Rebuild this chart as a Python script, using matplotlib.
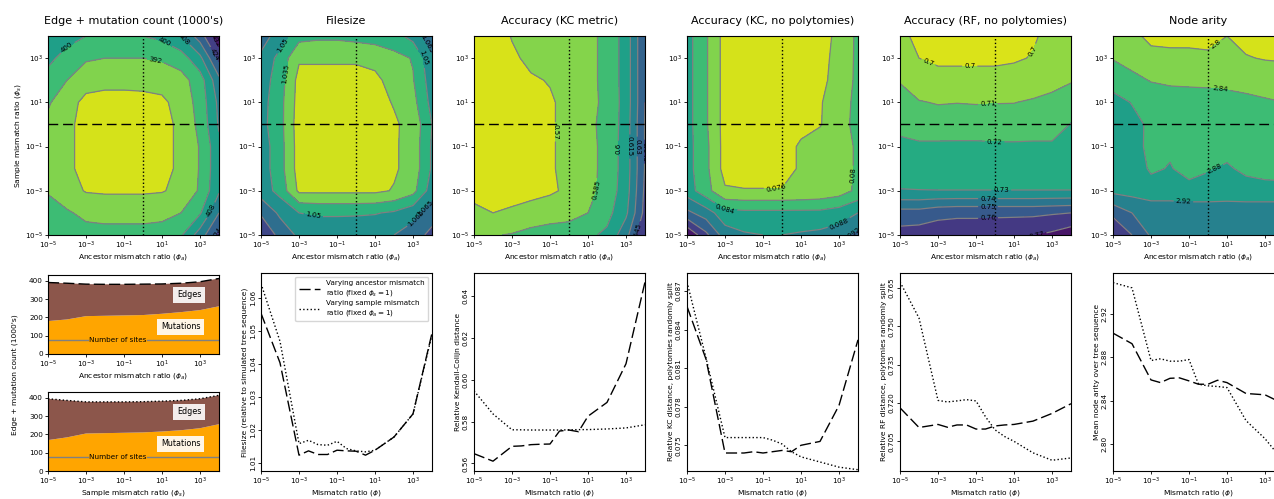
import numpy as np
import matplotlib
matplotlib.use("Agg")
import matplotlib.pyplot as plt
from matplotlib.ticker import FixedLocator, FuncFormatter, NullLocator

# ---------------------------------------------------------------------------
# Surfaces over (ancestor mismatch ratio, sample mismatch ratio), decade grid.
# Rows: log10(phi_s) = -5 .. 4, columns: log10(phi_a) = -5 .. 4
# ---------------------------------------------------------------------------
log_phi_a = [-5, -4, -3, -2, -1, 0, 1, 2, 3, 4]
log_phi_s = [-5, -4, -3, -2, -1, 0, 1, 2, 3, 4]

edge_mut_grid = [
    [399, 397, 395, 394.5, 394.5, 394.5, 395, 399, 412, 426],
    [397, 393, 390, 389.5, 389.5, 389.5, 390, 392, 399, 416],
    [391, 387, 383.5, 383, 383, 383, 383.5, 386, 393, 407],
    [390, 386, 381, 380, 380, 380, 381, 386, 392.5, 406],
    [389, 386, 381, 380, 380, 380, 381, 386, 392.5, 406],
    [390, 386, 381, 380, 380, 380, 381, 386, 394, 409],
    [393, 387, 382, 381.5, 381.5, 382, 382.5, 387, 395, 410],
    [397, 392, 387, 386, 386, 386, 387, 389, 396, 414],
    [402, 397, 393, 392, 392, 392, 393, 396, 406, 426],
    [407, 403, 400, 399, 399, 400, 402, 408, 420, 438],
]
edge_mut_levels = [376, 384, 392, 400, 408, 416, 424, 432, 440]

filesize_grid = [
    [1.095, 1.075, 1.062, 1.060, 1.060, 1.062, 1.062, 1.065, 1.072, 1.085],
    [1.078, 1.062, 1.050, 1.048, 1.048, 1.048, 1.049, 1.052, 1.060, 1.072],
    [1.058, 1.045, 1.017, 1.017, 1.017, 1.017, 1.017, 1.021, 1.030, 1.058],
    [1.058, 1.041, 1.0135, 1.013, 1.013, 1.013, 1.014, 1.018, 1.026, 1.052],
    [1.058, 1.041, 1.0135, 1.013, 1.013, 1.013, 1.014, 1.018, 1.026, 1.052],
    [1.055, 1.040, 1.0125, 1.013, 1.013, 1.013, 1.014, 1.018, 1.025, 1.050],
    [1.056, 1.040, 1.014, 1.0135, 1.0135, 1.014, 1.015, 1.021, 1.030, 1.055],
    [1.058, 1.042, 1.015, 1.015, 1.015, 1.015, 1.017, 1.025, 1.034, 1.058],
    [1.062, 1.045, 1.022, 1.022, 1.022, 1.022, 1.024, 1.030, 1.036, 1.062],
    [1.072, 1.058, 1.040, 1.038, 1.038, 1.040, 1.042, 1.045, 1.055, 1.075],
]
filesize_levels = [1.005, 1.02, 1.035, 1.05, 1.065, 1.08, 1.095, 1.11]

kc_grid = [
    [0.583, 0.584, 0.586, 0.590, 0.592, 0.594, 0.597, 0.603, 0.625, 0.660],
    [0.573, 0.570, 0.572, 0.575, 0.578, 0.579, 0.585, 0.595, 0.612, 0.650],
    [0.566, 0.565, 0.565, 0.566, 0.568, 0.5725, 0.580, 0.591, 0.608, 0.648],
    [0.564, 0.563, 0.564, 0.565, 0.569, 0.5725, 0.580, 0.590, 0.607, 0.646],
    [0.564, 0.563, 0.564, 0.565, 0.569, 0.5725, 0.580, 0.590, 0.607, 0.646],
    [0.5645, 0.5605, 0.5675, 0.569, 0.569, 0.5725, 0.582, 0.589, 0.607, 0.646],
    [0.563, 0.562, 0.564, 0.566, 0.569, 0.5725, 0.580, 0.589, 0.606, 0.645],
    [0.562, 0.562, 0.566, 0.569, 0.5705, 0.572, 0.580, 0.590, 0.606, 0.645],
    [0.562, 0.563, 0.5685, 0.572, 0.572, 0.572, 0.580, 0.590, 0.606, 0.645],
    [0.562, 0.565, 0.5705, 0.573, 0.5735, 0.5735, 0.580, 0.590, 0.606, 0.645],
]
kc_levels = [0.555, 0.57, 0.585, 0.6, 0.615, 0.63, 0.645, 0.66, 0.675]

kc_split_grid = [
    [0.104, 0.097, 0.090, 0.0885, 0.088, 0.088, 0.0885, 0.089, 0.090, 0.093],
    [0.093, 0.090, 0.0855, 0.085, 0.085, 0.085, 0.085, 0.085, 0.086, 0.088],
    [0.086, 0.0815, 0.0765, 0.0762, 0.0762, 0.0762, 0.0765, 0.077, 0.078, 0.081],
    [0.0855, 0.081, 0.0745, 0.0744, 0.0744, 0.0745, 0.0765, 0.0775, 0.0785, 0.0805],
    [0.0855, 0.081, 0.0745, 0.0744, 0.0744, 0.0745, 0.0765, 0.0775, 0.0785, 0.0805],
    [0.0855, 0.0805, 0.0745, 0.0745, 0.0744, 0.0746, 0.0750, 0.0758, 0.0781, 0.0815],
    [0.0855, 0.0805, 0.0745, 0.0745, 0.0745, 0.0746, 0.0748, 0.0757, 0.0780, 0.0812],
    [0.0855, 0.0805, 0.0745, 0.0745, 0.0745, 0.0746, 0.0748, 0.0752, 0.0772, 0.0810],
    [0.0855, 0.0805, 0.0745, 0.0745, 0.0745, 0.0746, 0.0748, 0.0752, 0.0768, 0.0810],
    [0.0855, 0.0805, 0.0745, 0.0745, 0.0745, 0.0746, 0.0748, 0.0752, 0.0765, 0.0810],
]
kc_split_levels = [0.072, 0.076, 0.080, 0.084, 0.088, 0.092, 0.096, 0.100, 0.104]

rf_grid = [
    [0.764, 0.765, 0.766, 0.766, 0.766, 0.767, 0.768, 0.7695, 0.772, 0.776],
    [0.754, 0.754, 0.757, 0.758, 0.758, 0.758, 0.758, 0.758, 0.759, 0.760],
    [0.7305, 0.7303, 0.7302, 0.7302, 0.7302, 0.7302, 0.7302, 0.7302, 0.7302, 0.7302],
    [0.725, 0.7245, 0.7245, 0.7245, 0.7245, 0.7245, 0.7245, 0.7245, 0.7245, 0.7245],
    [0.7235, 0.722, 0.722, 0.722, 0.722, 0.7215, 0.7215, 0.722, 0.722, 0.7225],
    [0.716, 0.714, 0.714, 0.7145, 0.7145, 0.7145, 0.7145, 0.714, 0.714, 0.7205],
    [0.713, 0.7105, 0.7095, 0.7098, 0.7095, 0.7097, 0.7098, 0.711, 0.7125, 0.7135],
    [0.7095, 0.705, 0.7035, 0.7035, 0.7035, 0.7035, 0.7035, 0.705, 0.707, 0.7095],
    [0.704, 0.700, 0.698, 0.698, 0.698, 0.698, 0.699, 0.7005, 0.703, 0.706],
    [0.7015, 0.6985, 0.6975, 0.6975, 0.6975, 0.6975, 0.699, 0.699, 0.7025, 0.705],
]
rf_levels = [0.69, 0.70, 0.71, 0.72, 0.73, 0.74, 0.75, 0.76, 0.77, 0.78]

arity_grid = [
    [3.04, 3.00, 2.955, 2.95, 2.95, 2.948, 2.95, 2.95, 2.95, 2.95],
    [2.99, 2.96, 2.95, 2.95, 2.95, 2.95, 2.95, 2.95, 2.95, 2.95],
    [2.91, 2.905, 2.895, 2.895, 2.89, 2.89, 2.893, 2.89, 2.89, 2.89],
    [2.905, 2.90, 2.875, 2.882, 2.87, 2.878, 2.883, 2.875, 2.87, 2.868],
    [2.90, 2.895, 2.87, 2.875, 2.865, 2.868, 2.872, 2.865, 2.862, 2.86],
    [2.902, 2.893, 2.872, 2.862, 2.86, 2.855, 2.858, 2.848, 2.846, 2.838],
    [2.895, 2.878, 2.862, 2.86, 2.858, 2.855, 2.853, 2.85, 2.845, 2.84],
    [2.862, 2.85, 2.838, 2.833, 2.832, 2.832, 2.83, 2.825, 2.82, 2.815],
    [2.838, 2.826, 2.81, 2.807, 2.806, 2.804, 2.806, 2.802, 2.798, 2.797],
    [2.815, 2.808, 2.792, 2.792, 2.793, 2.793, 2.80, 2.79, 2.787, 2.785],
]
arity_levels = [2.76, 2.80, 2.84, 2.88, 2.92, 2.96, 3.00, 3.04, 3.08]

# ---------------------------------------------------------------------------
# One-dimensional slices
# ---------------------------------------------------------------------------
phi_dec = [1e-5, 1e-4, 1e-3, 1e-2, 1e-1, 1e0, 1e1, 1e2, 1e3, 1e4]
mutations_anc = [180, 189, 207, 209, 211, 213, 220, 229, 240, 261]
edges_anc = [211, 198, 175, 172, 170, 169, 163, 158, 155, 152]
mutations_smp = [169, 184, 205, 207, 209, 211, 216, 223, 234, 256]
edges_smp = [226, 202, 173, 171, 169, 168, 166, 163, 161, 158]
n_sites = 74

phi = [1e-5, 1e-4, 1e-3, 3.16e-3, 1e-2, 3.16e-2, 1e-1, 3.16e-1, 1.0, 3.16, 1e1, 1e2, 1e3, 1e4]
filesize_anc = [1.0555, 1.0405, 1.0125, 1.0138, 1.0127, 1.0127, 1.0140, 1.0138, 1.0137, 1.0125, 1.0140, 1.0180, 1.0250, 1.0495]
filesize_smp = [1.0645, 1.0470, 1.0160, 1.0170, 1.0157, 1.0155, 1.0167, 1.0145, 1.0138, 1.0135, 1.0140, 1.0180, 1.0250, 1.0490]
kc_anc = [0.5647, 0.5611, 0.5682, 0.5684, 0.5690, 0.5692, 0.5693, 0.5755, 0.5760, 0.5752, 0.5826, 0.5892, 0.6077, 0.6468]
kc_smp = [0.5947, 0.5837, 0.5761, 0.5761, 0.5760, 0.5760, 0.5760, 0.5760, 0.5761, 0.5762, 0.5762, 0.5765, 0.5770, 0.5785]
kc_split_anc = [0.0858, 0.0817, 0.0744, 0.0744, 0.0744, 0.0745, 0.0744, 0.0745, 0.0746, 0.0745, 0.0750, 0.0753, 0.0781, 0.0832]
kc_split_smp = [0.0877, 0.0818, 0.0756, 0.0756, 0.0756, 0.0756, 0.0756, 0.0754, 0.0751, 0.0745, 0.0741, 0.0737, 0.0733, 0.0731]
rf_anc = [0.7181, 0.7104, 0.7116, 0.7105, 0.7114, 0.7114, 0.7098, 0.7098, 0.7110, 0.7114, 0.7116, 0.7129, 0.7159, 0.7197]
rf_smp = [0.7673, 0.7532, 0.7210, 0.7204, 0.7208, 0.7213, 0.7208, 0.7146, 0.7095, 0.7069, 0.7050, 0.7005, 0.6976, 0.6985]
arity_anc = [2.9025, 2.8927, 2.8591, 2.8566, 2.8606, 2.8610, 2.8582, 2.8551, 2.8551, 2.8588, 2.8566, 2.8465, 2.8453, 2.8367]
arity_smp = [2.9494, 2.9445, 2.8771, 2.8787, 2.8765, 2.8765, 2.8780, 2.8551, 2.8536, 2.8530, 2.8520, 2.8214, 2.8046, 2.7830]

# ---------------------------------------------------------------------------
TITLE_FS = 8
LABEL_FS = 5.4
TICK_FS = 5.2
DASH = (0, (8, 3))

fig = plt.figure(figsize=(12.74, 4.99), dpi=100)
W, H = 1274.0, 499.0


def axes_px(left, top, width, height):
    return fig.add_axes([left / W, (H - top - height) / H, width / W, height / H])


def style_axes(ax):
    for s in ax.spines.values():
        s.set_linewidth(0.8)
    ax.tick_params(labelsize=TICK_FS, length=2.5, width=0.6, pad=1.2)


def log_ticks_linear(ax):
    ticks = [-5, -3, -1, 1, 3]
    fmt = FuncFormatter(lambda v, p: r"$\mathdefault{10^{%d}}$" % round(v))
    for axis in (ax.xaxis, ax.yaxis):
        axis.set_major_locator(FixedLocator(ticks))
        axis.set_major_formatter(fmt)
        axis.set_minor_locator(NullLocator())


def contour_panel(col, grid, levels, fmt, label_pos, title):
    ax = axes_px(48 + 213 * col, 36, 171, 199)
    z = np.array(grid)
    ax.contourf(log_phi_a, log_phi_s, z, levels=levels, cmap="viridis_r")
    cs = ax.contour(log_phi_a, log_phi_s, z, levels=levels, colors="grey", linewidths=0.9)
    ax.clabel(cs, fmt=fmt, fontsize=5, colors="k", inline=True, inline_spacing=2,
              manual=label_pos)
    ax.axhline(0, color="k", ls=(0, (7, 3.5)), lw=1)
    ax.axvline(0, color="k", ls=":", lw=1)
    ax.set_xlim(-5, 4)
    ax.set_ylim(-5, 4)
    log_ticks_linear(ax)
    style_axes(ax)
    ax.set_title(title, fontsize=TITLE_FS, pad=9)
    ax.set_xlabel(r"Ancestor mismatch ratio ($\phi_a$)", fontsize=LABEL_FS, labelpad=0.5)
    return ax


ax0 = contour_panel(0, edge_mut_grid, edge_mut_levels, "%d",
                    [(-4.2, 3.82), (1.1, 3.67), (0.65, 2.9), (2.07, 3.8), (3.9, 3.8),
                     (3.65, 3.1), (3.75, -3.95), (3.85, -4.9)],
                    "Edge + mutation count (1000's)")
ax0.set_ylabel(r"Sample mismatch ratio ($\phi_s$)", fontsize=LABEL_FS, labelpad=1)
contour_panel(1, filesize_grid, filesize_levels, "%g",
              [(-4.03, 3.67), (-3.6, 2.3), (-2.26, -4.18), (3.04, -4.15), (3.75, 3.67),
               (3.75, 3.06), (3.9, -4.03)],
              "Filesize")
contour_panel(2, kc_grid, kc_levels, "%g",
              [(-0.74, -0.33), (1.64, -2.97), (2.7, -1.08), (3.14, -1.0), (3.49, -1.0),
               (3.85, -1.23), (3.76, -4.93)],
              "Accuracy (KC metric)")
contour_panel(3, kc_split_grid, kc_split_levels, "%g",
              [(-0.32, -2.97), (-3.11, -4.02), (3.44, -2.29), (3.0, -4.47), (3.52, -4.95)],
              "Accuracy (KC, no polytomies)")
contour_panel(4, rf_grid, rf_levels, "%g",
              [(-2.99, 3.85), (-1.33, 3.94), (1.99, 3.34), (-0.37, 0.8), (-0.02, -0.78),
               (0.33, -3.05), (-0.37, -3.3), (-0.37, -3.6), (-0.37, -4.17), (1.99, -4.85)],
              "Accuracy (RF, no polytomies)")
contour_panel(5, arity_grid, arity_levels, "%g",
              [(0.31, 3.74), (0.66, 1.56), (0.49, -2.29), (-1.28, -3.27)],
              "Node arity")


# ---------------------------------------------------------------------------
def log_ticks(ax):
    ax.set_xscale("log")
    ax.set_xlim(1e-5, 1e4)
    ax.xaxis.set_major_locator(FixedLocator([1e-5, 1e-3, 1e-1, 1e1, 1e3]))
    ax.xaxis.set_minor_locator(NullLocator())


def stack_panel(top, mutations, edges, style, xlabel):
    ax = axes_px(48, top, 171, 79)
    totals = [m + e for m, e in zip(mutations, edges)]
    ax.stackplot(phi_dec, mutations, edges, colors=["orange", "#8c564b"])
    ax.plot(phi_dec, totals, color="k", ls=style, lw=1)
    ax.axhline(n_sites, color="grey", lw=1)
    ax.text(10 ** -1.33, n_sites, "Number of sites", fontsize=5.2, ha="center", va="center",
            bbox=dict(facecolor="orange", edgecolor="none", pad=0.3))
    box = dict(facecolor="white", edgecolor="none", alpha=0.9, pad=2.5)
    ax.text(10 ** 2.42, 324, "Edges", fontsize=5.8, ha="center", va="center", bbox=box)
    ax.text(10 ** 1.98, 150, "Mutations", fontsize=5.8, ha="center", va="center", bbox=box)
    log_ticks(ax)
    ax.set_ylim(0, 432)
    ax.set_yticks([0, 100, 200, 300, 400])
    style_axes(ax)
    ax.set_xlabel(xlabel, fontsize=LABEL_FS, labelpad=0.5)
    return ax


stack_panel(275, mutations_anc, edges_anc, DASH, r"Ancestor mismatch ratio ($\phi_a$)")
stack_panel(392, mutations_smp, edges_smp, ":", r"Sample mismatch ratio ($\phi_s$)")
fig.text(15 / W, (H - 375) / H, "Edge + mutation count (1000's)", rotation=90,
         ha="center", va="center", fontsize=LABEL_FS)


def line_panel(col, anc, smp, ylabel, yticks, ylim):
    ax = axes_px(48 + 213 * col, 273, 171, 198)
    ax.plot(phi, anc, color="k", ls=DASH, lw=1,
            label="Varying ancestor mismatch\n" + r"ratio (fixed $\phi_s=1$)")
    ax.plot(phi, smp, color="k", ls=":", lw=1,
            label="Varying sample mismatch\n" + r"ratio (fixed $\phi_a=1$)")
    log_ticks(ax)
    ax.set_ylim(*ylim)
    ax.set_yticks(yticks)
    ax.tick_params(axis="y", labelrotation=90)
    for t in ax.get_yticklabels():
        t.set_va("center")
    style_axes(ax)
    ax.set_xlabel(r"Mismatch ratio ($\phi$)", fontsize=LABEL_FS, labelpad=0.5)
    ax.set_ylabel(ylabel, fontsize=LABEL_FS, labelpad=1)
    return ax


ax_fs = line_panel(1, filesize_anc, filesize_smp,
                   "Filesize (relative to simulated tree sequence)",
                   [1.01, 1.02, 1.03, 1.04, 1.05, 1.06], (1.0077, 1.0677))
ax_fs.legend(loc="upper right", fontsize=5.2, handlelength=3, frameon=True,
             borderpad=0.5, labelspacing=0.4)
line_panel(2, kc_anc, kc_smp, "Relative Kendall-Colijn distance",
           [0.56, 0.58, 0.60, 0.62, 0.64], (0.5564, 0.6511))
line_panel(3, kc_split_anc, kc_split_smp, "Relative KC distance, polytomies randomly split",
           [0.075, 0.078, 0.081, 0.084, 0.087], (0.0730, 0.0884))
line_panel(4, rf_anc, rf_smp, "Relative RF distance, polytomies randomly split",
           [0.705, 0.720, 0.735, 0.750, 0.765], (0.6934, 0.7708))
line_panel(5, arity_anc, arity_smp, "Mean node arity over tree sequence",
           [2.80, 2.84, 2.88, 2.92], (2.7746, 2.9583))

fig.savefig("out.png", dpi=100)
